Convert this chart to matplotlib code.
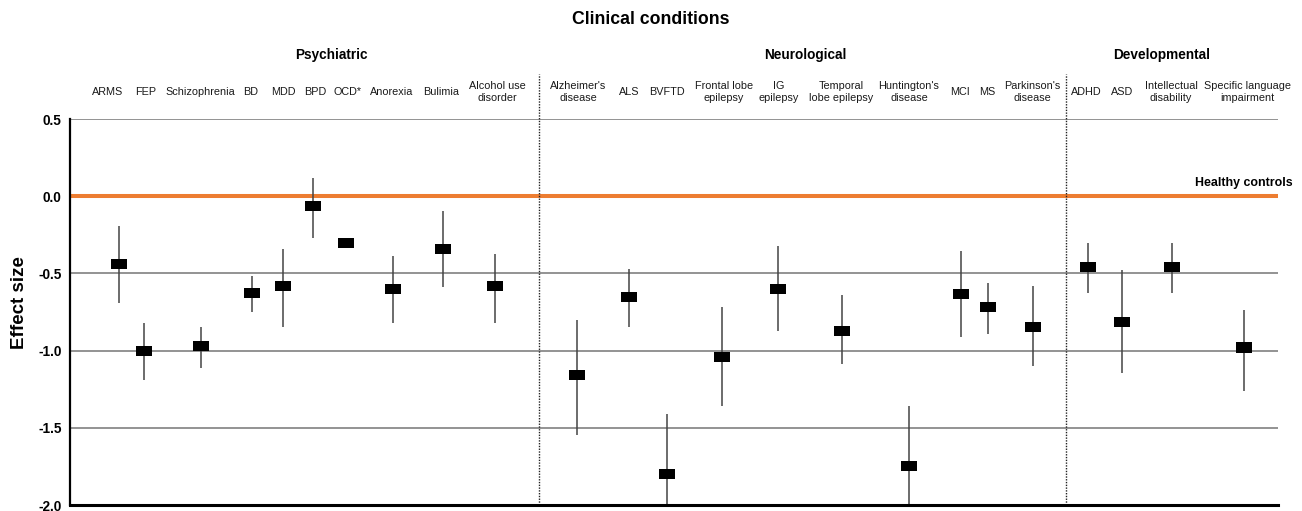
import matplotlib
matplotlib.use("Agg")
import matplotlib.pyplot as plt
import matplotlib.transforms as mtransforms
import numpy as np

plt.rcParams['font.family'] = ['Liberation Sans', 'DejaVu Sans']
plt.rcParams['axes.unicode_minus'] = False

# conditions, grouped (labels as shown on the chart)
conditions = ["ARMS", "FEP", "Schizophrenia", "BD", "MDD", "BPD", "OCD*", "Anorexia",
              "Bulimia", "Alcohol use\ndisorder",
              "Alzheimer's\ndisease", "ALS", "BVFTD", "Frontal lobe\nepilepsy", "IG\nepilepsy",
              "Temporal\nlobe epilepsy", "Huntington's\ndisease", "MCI", "MS", "Parkinson's\ndisease",
              "ADHD", "ASD", "Intellectual\ndisability", "Specific language\nimpairment"]

effect = [-0.44, -1.00, -0.97, -0.63, -0.58, -0.065, -0.30, -0.60, -0.34, -0.58,
          -1.16, -0.655, -1.80, -1.04, -0.60, -0.87, -1.75, -0.635, -0.715, -0.845,
          -0.46, -0.815, -0.46, -0.98]
ci_low = [-0.69, -1.19, -1.11, -0.75, -0.85, -0.27, np.nan, -0.82, -0.59, -0.82,
          -1.545, -0.85, -2.19, -1.36, -0.875, -1.09, -2.14, -0.91, -0.89, -1.10,
          -0.63, -1.145, -0.63, -1.26]
ci_high = [-0.19, -0.82, -0.85, -0.52, -0.34, 0.12, np.nan, -0.39, -0.095, -0.375,
           -0.80, -0.47, -1.41, -0.72, -0.32, -0.64, -1.36, -0.355, -0.56, -0.58,
           -0.30, -0.48, -0.30, -0.74]

groups = ["Psychiatric", "Neurological", "Developmental"]

# layout: horizontal slot of each condition (axis spans 0..1208)
slot_x = [49, 74, 131, 182, 213, 243, 276, 323, 373, 425,
          507, 559, 597, 652, 708, 772, 839, 891, 918, 963,
          1018, 1052, 1102, 1174]
# label centres differ a little from the marks in the original
label_x = [38, 76, 130, 181, 213, 245, 278, 322, 371, 427,
           508, 559, 597, 654, 709, 771, 839, 890, 917, 962,
           1016, 1052, 1101, 1177]
divider_x = [469, 996]
group_x = [261, 735, 1092]

fig = plt.figure(figsize=(13.02, 5.11), dpi=100)
ax = fig.add_axes([70 / 1302, 6 / 511, 1208 / 1302, 386 / 511])

ax.set_xlim(0, 1208)
ax.set_ylim(-2.0, 0.5)

yt = [-2.0, -1.5, -1.0, -0.5, 0.0, 0.5]
ax.set_yticks(yt)
ax.set_yticklabels(["%.1f" % v for v in yt], fontsize=9.8, fontweight='bold')
ax.set_xticks([])
ax.tick_params(axis='y', length=0, pad=6)
ax.yaxis.grid(True, color='#808080', lw=1.2, zorder=0)
ax.set_axisbelow(True)

for s in ['top', 'right']:
    ax.spines[s].set_visible(False)
ax.spines['left'].set_linewidth(1.6)
ax.spines['bottom'].set_linewidth(2.2)
ax.spines['left'].set_zorder(5)
ax.spines['bottom'].set_zorder(5)

# healthy controls reference
ax.axhline(0, color='#ED7D31', lw=2.9, zorder=2)
ax.text(1223, 0.085, "Healthy controls", fontsize=8.9, fontweight='bold',
        ha='right', va='center', clip_on=False)

# confidence intervals and point estimates
ax.vlines(slot_x, ci_low, ci_high, color='#444444', lw=1.1, zorder=3)
eff = np.array(effect)
ax.bar(slot_x, 0.065, bottom=eff - 0.0325, width=16, color='black', zorder=4)

# dotted group dividers
for dx in divider_x:
    ax.plot([dx, dx], [-2.0, 0.79], color='#222222', lw=1.0, ls=(0, (1, 1)),
            clip_on=False, zorder=3)

tr = mtransforms.blended_transform_factory(ax.transData, fig.transFigure)
for x, lab in zip(label_x, conditions):
    ax.text(x, 1 - 92 / 511, lab, transform=tr, fontsize=7.8, color='#1a1a1a',
            ha='center', va='center', multialignment='center')
for x, g in zip(group_x, groups):
    ax.text(x, 1 - 55 / 511, g, transform=tr, fontsize=9.8, fontweight='bold',
            ha='center', va='center')

fig.text(651 / 1302, 1 - 19 / 511, "Clinical conditions", fontsize=12.7,
         fontweight='bold', ha='center', va='center')
fig.text(19.5 / 1302, 1 - 303 / 511, "Effect size", fontsize=13.5, fontweight='bold',
         rotation=90, ha='center', va='center')

fig.savefig("out.png", dpi=100)
